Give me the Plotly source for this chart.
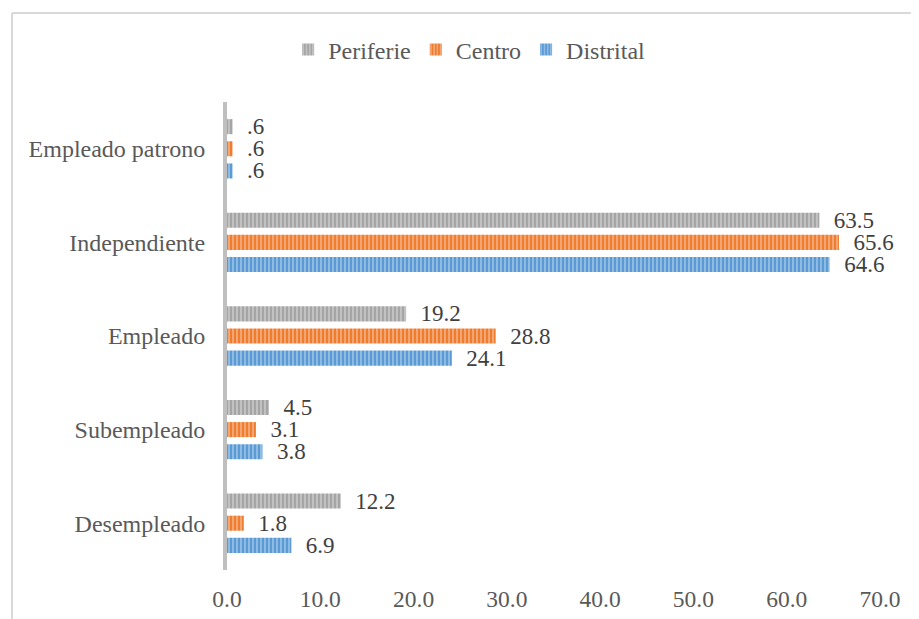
import plotly.graph_objects as go

categories = ["Desempleado", "Subempleado", "Empleado", "Independiente", "Empleado patrono"]
distrital = [6.9, 3.8, 24.1, 64.6, 0.6]
centro = [1.8, 3.1, 28.8, 65.6, 0.6]
periferie = [12.2, 4.5, 19.2, 63.5, 0.6]
x_ticks = [0, 10, 20, 30, 40, 50, 60, 70]
x_tick_labels = ["0.0", "10.0", "20.0", "30.0", "40.0", "50.0", "60.0", "70.0"]


def fmt(v):
    s = f"{v:.1f}"
    if s.startswith("0."):
        s = s[1:]
    return "\u00a0\u00a0" + s


FONT = "Liberation Serif, Times New Roman, serif"
TXT = "#595959"

series = [
    ("Distrital", distrital, "#5B9BD5"),
    ("Centro", centro, "#ED7D31"),
    ("Periferie", periferie, "#A5A5A5"),
]

fig = go.Figure()
for name, vals, col in series:
    fig.add_trace(go.Bar(
        name=name,
        y=categories,
        x=vals,
        orientation="h",
        text=[fmt(v) for v in vals],
        textposition="outside",
        constraintext="none",
        cliponaxis=False,
        textfont=dict(family=FONT, size=23, color="#404040"),
        marker=dict(
            color=col,
            line=dict(width=0),
            pattern=dict(shape="|", fgcolor="white", fgopacity=0.45, size=4, solidity=0.35),
        ),
    ))

# page body has an 8px offset; margins are in figure coordinates
OFF = 8
W, H = 919, 619
L = 227 - OFF
T = 102 - OFF
R = W - (880 - OFF)
B = H - (570 - OFF)
pw, ph = W - L - R, H - T - B
bx = (12 - OFF - L) / pw
by = 1 + (T - (13 - OFF)) / ph

fig.update_layout(
    width=W, height=H,
    margin=dict(l=L, r=R, t=T, b=B),
    paper_bgcolor="white",
    plot_bgcolor="white",
    barmode="group",
    bargap=0.29,
    bargroupgap=0.32,
    font=dict(family=FONT, size=24, color=TXT),
    showlegend=True,
    legend=dict(
        orientation="h",
        traceorder="reversed",
        x=0.38 - 6 / pw, xanchor="center",
        y=1 + (T - (50 - OFF)) / ph, yanchor="middle",
        font=dict(family=FONT, size=24, color=TXT),
        itemwidth=30,
        entrywidth=0,
    ),
    xaxis=dict(
        range=[0, 70],
        tickvals=x_ticks,
        ticktext=x_tick_labels,
        showgrid=False,
        zeroline=False,
        showline=False,
        ticks="",
        ticklabelstandoff=12,
        tickfont=dict(family=FONT, size=23.5, color=TXT),
    ),
    yaxis=dict(
        showgrid=False,
        zeroline=False,
        showline=True,
        linecolor="#BFBFBF",
        linewidth=4,
        ticks="",
        ticklabelstandoff=13,
        tickfont=dict(family=FONT, size=24, color=TXT),
    ),
    shapes=[
        dict(type="line", xref="paper", yref="paper", x0=bx, x1=1 + 80 / pw, y0=by, y1=by,
             line=dict(color="#D9D9D9", width=2)),
        dict(type="line", xref="paper", yref="paper", x0=bx, x1=bx, y0=by, y1=-0.2,
             line=dict(color="#D9D9D9", width=2)),
    ],
)

fig.write_html("out.html")
